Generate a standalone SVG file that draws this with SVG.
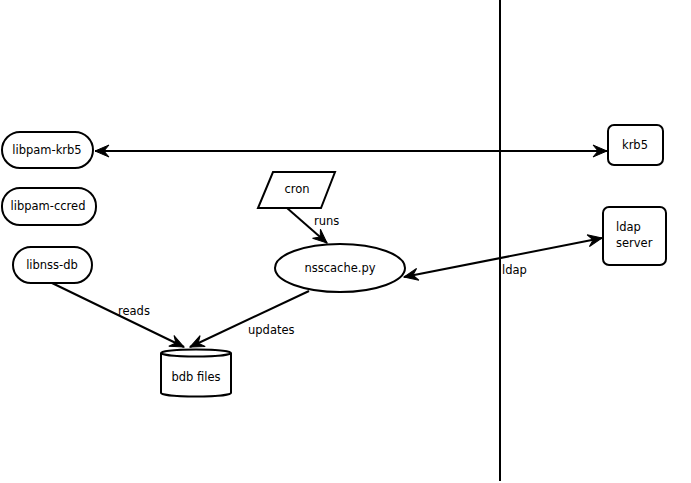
<svg xmlns="http://www.w3.org/2000/svg" width="691" height="483" viewBox="0 0 691 483">
<style>
.shape{fill:#fff;stroke:#000;stroke-width:2}
.line{fill:none;stroke:#000;stroke-width:2}
text{font-family:"DejaVu Sans",sans-serif;font-size:11.5px;fill:#000}
.c{text-anchor:middle}
</style>
<defs>
<marker id="ah" viewBox="-15 -7 16 14" refX="0" refY="0" markerWidth="16" markerHeight="14" markerUnits="userSpaceOnUse" orient="auto-start-reverse">
<path d="M0,0 L-14,-6 L-9,0 L-14,6 Z" fill="#000" stroke="#000" stroke-width="1"/>
</marker>
</defs>
<rect width="691" height="483" fill="#fff"/>
<line x1="500" y1="0" x2="500" y2="481" stroke="#000" stroke-width="2"/>
<g id="connectors">
<line class="line" x1="95" y1="151" x2="607" y2="151" marker-start="url(#ah)" marker-end="url(#ah)"/>
<line class="line" x1="287" y1="208" x2="327" y2="243" marker-end="url(#ah)"/>
<line class="line" x1="52" y1="283" x2="184" y2="347" marker-end="url(#ah)"/>
<line class="line" x1="309" y1="291" x2="190" y2="347" marker-end="url(#ah)"/>
<line class="line" x1="404" y1="277" x2="602" y2="238" marker-start="url(#ah)" marker-end="url(#ah)"/>
<text x="314" y="225">runs</text>
<text x="118" y="315">reads</text>
<text x="248" y="334">updates</text>
<text x="502" y="274">ldap</text>
</g>
<g id="libpam-krb5">
<rect class="shape" x="2" y="132" width="91" height="36" rx="18"/>
<text class="c" x="47" y="154">libpam-krb5</text>
</g>
<g id="libpam-ccred">
<rect class="shape" x="2" y="188" width="94" height="37" rx="18"/>
<text class="c" x="48" y="210">libpam-ccred</text>
</g>
<g id="libnss-db">
<rect class="shape" x="13" y="247" width="79" height="36" rx="18"/>
<text class="c" x="52" y="269">libnss-db</text>
</g>
<g id="cron">
<polygon class="shape" points="273,172 335,172 321,208 258,208"/>
<text class="c" x="297" y="193">cron</text>
</g>
<g id="nsscache">
<ellipse class="shape" cx="340" cy="268" rx="65" ry="24"/>
<text class="c" x="340" y="272">nsscache.py</text>
</g>
<g id="bdb">
<path class="shape" d="M161,353 A35,3.5 0 0 1 231,353 L231,393 A35,3.5 0 0 1 161,393 Z"/>
<path class="line" d="M161,353 A35,3.5 0 0 0 231,353"/>
<text class="c" x="196" y="381">bdb files</text>
</g>
<g id="krb5">
<rect class="shape" x="608" y="125" width="55" height="40" rx="6"/>
<text class="c" x="635" y="149">krb5</text>
</g>
<g id="ldap-server">
<rect class="shape" x="603" y="207" width="63" height="58" rx="6"/>
<text x="616" y="231">ldap</text>
<text x="616" y="247">server</text>
</g>
</svg>
